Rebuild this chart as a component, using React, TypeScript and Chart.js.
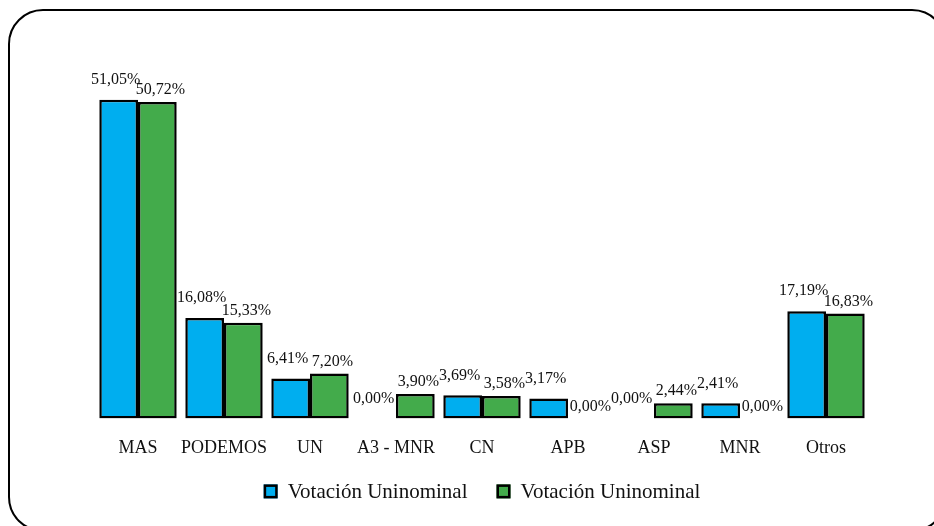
import React, { useEffect, useRef } from "react";
import { Chart, registerables } from "chart.js";

Chart.register(...registerables);

const categories = ["MAS", "PODEMOS", "UN", "A3 - MNR", "CN", "APB", "ASP", "MNR", "Otros"];
const seriesBlue = [51.05, 16.08, 6.41, 0.0, 3.69, 3.17, 0.0, 2.41, 17.19];
const seriesGreen = [50.72, 15.33, 7.2, 3.9, 3.58, 0.0, 2.44, 0.0, 16.83];
const seriesNames = ["Votación Uninominal", "Votación Uninominal"];

const FONT = "'Liberation Serif', 'Times New Roman', Times, serif";
const BLUE = "#00AEEF";
const GREEN = "#43AB4B";

const fmt = (v: number) => v.toFixed(2).replace(".", ",") + "%";

// per-series label placement style (gap above bar, horizontal nudge)
const labelGap = [12, 4];
const labelNudge = [-3, 3];

const labelPlugin = {
  id: "valueLabels",
  afterDatasetsDraw(chart: any) {
    const ctx = chart.ctx;
    ctx.save();
    ctx.font = `16px ${FONT}`;
    ctx.fillStyle = "#111";
    ctx.textAlign = "center";
    ctx.textBaseline = "bottom";
    chart.data.datasets.forEach((ds: any, di: number) => {
      const meta = chart.getDatasetMeta(di);
      meta.data.forEach((el: any, i: number) => {
        const v = ds.data[i] as number;
        ctx.fillText(fmt(v), el.x + labelNudge[di], el.y - labelGap[di]);
      });
    });
    ctx.restore();
  },
};

const legendPlugin = {
  id: "customLegend",
  afterDraw(chart: any) {
    const ctx = chart.ctx;
    const area = chart.chartArea;
    const box = 14;
    const boxGap = 10;
    const itemGap = 29;
    const y = area.bottom + 73;
    ctx.save();
    ctx.font = `21px ${FONT}`;
    const items = chart.data.datasets.map((ds: any) => ({
      text: ds.label as string,
      color: ds.backgroundColor as string,
      w: ctx.measureText(ds.label).width,
    }));
    const total =
      items.reduce((s: number, it: any) => s + box + boxGap + it.w, 0) + itemGap * (items.length - 1);
    let x = (area.left + area.right) / 2 - total / 2;
    items.forEach((it: any) => {
      ctx.fillStyle = it.color;
      ctx.fillRect(x, y - box / 2, box, box);
      ctx.strokeStyle = "#000";
      ctx.lineWidth = 2.5;
      ctx.strokeRect(x + 1.25, y - box / 2 + 1.25, box - 2.5, box - 2.5);
      ctx.fillStyle = "#111";
      ctx.textAlign = "left";
      ctx.textBaseline = "middle";
      ctx.fillText(it.text, x + box + boxGap, y + 1);
      x += box + boxGap + it.w + itemGap;
    });
    ctx.restore();
  },
};

export default function App() {
  const canvasRef = useRef<HTMLCanvasElement | null>(null);

  useEffect(() => {
    if (!canvasRef.current) return;
    Chart.defaults.font.family = FONT;
    Chart.defaults.color = "#111";
    const chart = new Chart(canvasRef.current, {
      type: "bar",
      data: {
        labels: categories,
        datasets: [
          {
            label: seriesNames[0],
            data: seriesBlue,
            backgroundColor: BLUE,
            borderColor: "#000",
            borderWidth: 2.5,
            borderSkipped: false,
          },
          {
            label: seriesNames[1],
            data: seriesGreen,
            backgroundColor: GREEN,
            borderColor: "#000",
            borderWidth: 2.5,
            borderSkipped: false,
          },
        ],
      },
      options: {
        animation: false,
        responsive: false,
        maintainAspectRatio: false,
        layout: { padding: { left: 95, right: 65, top: 44, bottom: 48 } },
        datasets: { bar: { categoryPercentage: 0.9, barPercentage: 1.0 } },
        scales: {
          x: {
            grid: { display: false, drawTicks: false },
            border: { display: false },
            ticks: { padding: 19, font: { size: 18, family: FONT }, color: "#111", maxRotation: 0, autoSkip: false },
          },
          y: { display: false, min: 0, max: 60 },
        },
        plugins: {
          legend: { display: false },
          tooltip: { enabled: false },
        },
      },
      plugins: [labelPlugin, legendPlugin],
    } as any);
    return () => chart.destroy();
  }, []);

  return (
    <div style={{ position: "fixed", left: 0, top: 0, width: 934, height: 526, overflow: "hidden", background: "#fff" }}>
      <canvas ref={canvasRef} width={934} height={526} style={{ position: "absolute", left: 0, top: 0, width: 934, height: 526 }} />
      <div
        style={{
          position: "absolute",
          left: 8,
          top: 9,
          width: 935,
          height: 519,
          border: "2.5px solid #000",
          borderRadius: 35,
          pointerEvents: "none",
        }}
      />
    </div>
  );
}
